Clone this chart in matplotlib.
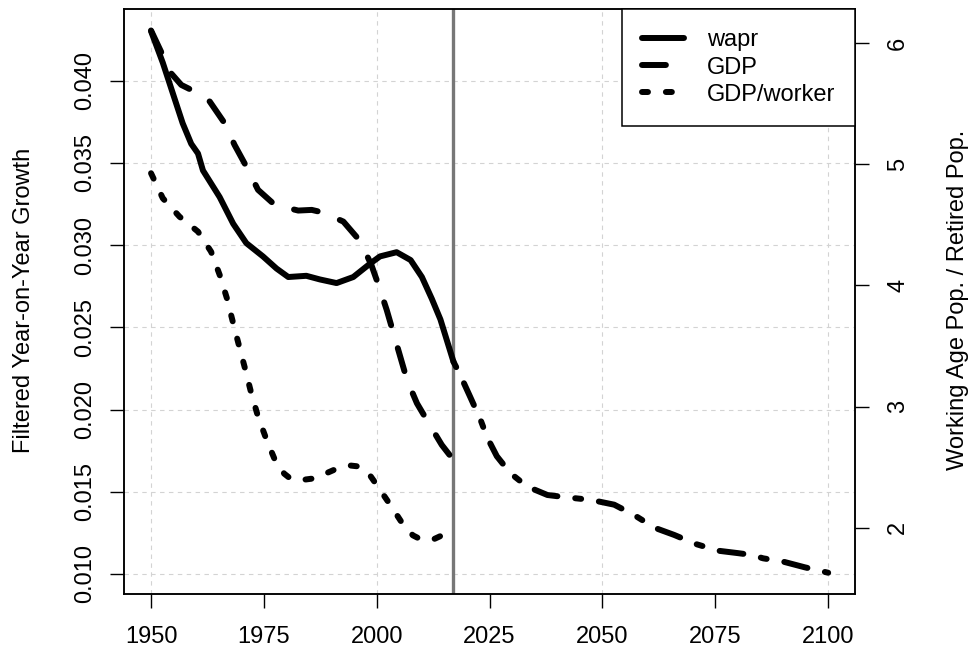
import matplotlib
matplotlib.use('Agg')
import matplotlib.pyplot as plt

plt.rcParams['font.family'] = ['Liberation Sans', 'DejaVu Sans']
plt.rcParams['font.size'] = 17

# wapr (working age pop / retired pop), right axis, observed up to 2017
wapr_years = [1950, 1952.6, 1954.8, 1957.0, 1958.9, 1960.4, 1961.5, 1965.2, 1968.2,
              1971.1, 1974.8, 1977.8, 1980.4, 1984.4, 1987.4, 1991.1, 1994.8, 1998.5,
              2000.7, 2004.4, 2007.5, 2010.0, 2012.2, 2014.1, 2017]
wapr_vals = [6.10, 5.84, 5.59, 5.34, 5.17, 5.09, 4.95, 4.73, 4.51,
             4.35, 4.24, 4.14, 4.07, 4.08, 4.05, 4.02, 4.07, 4.18,
             4.24, 4.275, 4.21, 4.07, 3.89, 3.72, 3.37]

# wapr projection 2017-2100
proj_years = [2017, 2018.5, 2020.7, 2023.0, 2024.4, 2026.6, 2029.6, 2033.3, 2037.8,
              2042.2, 2047.4, 2052.6, 2057.0, 2061.5, 2065.9, 2070.7, 2075.6, 2080.0,
              2083.0, 2085.6, 2090.0, 2094.8, 2100]
proj_vals = [3.37, 3.26, 3.08, 2.89, 2.75, 2.59, 2.45, 2.34, 2.27,
             2.25, 2.23, 2.19, 2.105, 2.0, 1.94, 1.865, 1.81, 1.79,
             1.775, 1.747, 1.72, 1.673, 1.628]

# GDP growth, left axis
gdp_years = [1950, 1952.2, 1954.4, 1956.7, 1958.9, 1963.0, 1966.3, 1968.5, 1971.1,
             1973.7, 1977.4, 1982.6, 1985.6, 1988.1, 1992.6, 1996.3, 1998.8, 2000.5,
             2002.2, 2003.7, 2005.2, 2006.7, 2008.9, 2011.5, 2014.4, 2017]
gdp_vals = [0.04305, 0.04177, 0.04046, 0.03974, 0.03944, 0.03873, 0.03741, 0.03609, 0.03478,
            0.03336, 0.03245, 0.03210, 0.03214, 0.03198, 0.03143, 0.03025, 0.02880, 0.02748,
            0.02606, 0.02464, 0.02322, 0.02180, 0.02038, 0.01917, 0.01785, 0.01693]

# GDP per worker growth, left axis
gdpw_years = [1950, 1952.6, 1956.3, 1960.4, 1963.3, 1965.2, 1966.8, 1968.1, 1969.5,
              1970.9, 1972.2, 1973.7, 1975.6, 1977.6, 1979.5, 1981.1, 1983.5, 1986.3,
              1991.1, 1994.0, 1996.3, 1998.5, 2000.0, 2003.0, 2005.9, 2008.0, 2010.0,
              2012.5, 2015.5, 2017]
gdpw_vals = [0.03437, 0.03285, 0.03173, 0.03082, 0.02960, 0.02819, 0.02677, 0.02535, 0.02387,
             0.02241, 0.02099, 0.01957, 0.01815, 0.01683, 0.01610, 0.01575, 0.01572, 0.01582,
             0.01640, 0.01660, 0.01653, 0.01600, 0.01541, 0.01420, 0.01298, 0.01235, 0.01207,
             0.01210, 0.01248, 0.01265]

x_ticks = [1950, 1975, 2000, 2025, 2050, 2075, 2100]
x_grid = [1950, 2000, 2050, 2100]
left_ticks = [0.010, 0.015, 0.020, 0.025, 0.030, 0.035, 0.040]
right_ticks = [2, 3, 4, 5, 6]
cutoff_year = 2017

lw = 4.3
fig = plt.figure(figsize=(9.73, 6.53), dpi=100)
ax = fig.add_axes([0.1274, 0.0899, 0.7516, 0.8959])
ax2 = ax.twinx()

ax.set_xlim(1944, 2106)
ax.set_ylim(0.008765, 0.04434)
ax2.set_ylim(1.450, 6.281)

# grid
for g in x_grid:
    ax.axvline(g, color='#d3d3d3', lw=0.8, dashes=(4, 4), zorder=0)
for g in left_ticks:
    ax.axhline(g, color='#d3d3d3', lw=0.8, dashes=(4, 4), zorder=0)

ax.axvline(cutoff_year, color='#777777', lw=2.4, zorder=1)

l_gdp, = ax.plot(gdp_years, gdp_vals, color='black', lw=lw, dashes=(4, 4),
                 dash_capstyle='round', label='GDP')
l_gdpw, = ax.plot(gdpw_years, gdpw_vals, color='black', lw=lw, dashes=(1, 3),
                  dash_capstyle='round', label='GDP/worker')
l_wapr, = ax2.plot(wapr_years, wapr_vals, color='black', lw=lw,
                   solid_capstyle='round', solid_joinstyle='round', label='wapr')
ax2.plot(proj_years, proj_vals, color='black', lw=lw, dashes=(1, 3, 4, 3),
         dash_capstyle='round')

ax.set_xticks(x_ticks)
ax.set_xticklabels([str(t) for t in x_ticks])
ax.set_yticks(left_ticks)
ax.set_yticklabels(['%.3f' % t for t in left_ticks], rotation=90, va='center')
ax2.set_yticks(right_ticks)
ax2.set_yticklabels([str(t) for t in right_ticks], rotation=90, va='center')

ax.tick_params(axis='x', length=10, width=1, pad=13)
ax.tick_params(axis='y', length=10, width=1, pad=10)
ax2.tick_params(axis='y', length=10, width=1, pad=13)
for a in (ax, ax2):
    for s in a.spines.values():
        s.set_linewidth(1.1)

fig.text(24 / 973, 1 - 300 / 653, 'Filtered Year-on-Year Growth', rotation=90,
         ha='center', va='center')
fig.text(958 / 973, 1 - 300 / 653, 'Working Age Pop. / Retired Pop.', rotation=90,
         ha='center', va='center')

leg = ax2.legend(handles=[l_wapr, l_gdp, l_gdpw], loc='upper right',
                 bbox_to_anchor=(1, 1), borderaxespad=0, fancybox=False,
                 framealpha=1, edgecolor='black', handlelength=1.8,
                 handletextpad=0.95, borderpad=0.85, labelspacing=0.22)
leg.get_frame().set_linewidth(1.1)

fig.savefig('out.png', dpi=100)
